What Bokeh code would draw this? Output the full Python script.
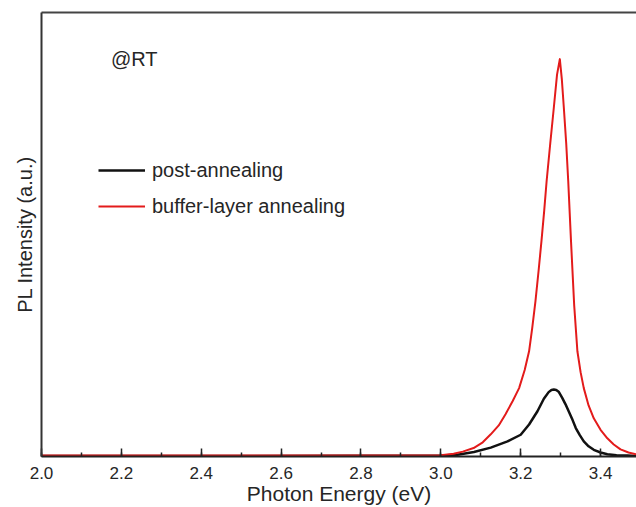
from bokeh.plotting import figure
from bokeh.models import (Range1d, LinearAxis, FixedTicker, SingleIntervalTicker,
                          PrintfTickFormatter, Legend, LegendItem, Label)
from bokeh.embed import file_html
from bokeh.resources import INLINE

# ---- data ----
red_energy = [2.00, 2.30, 2.60, 2.90, 3.000, 3.032, 3.055, 3.082, 3.105, 3.125, 3.145, 3.162,
              3.180, 3.196, 3.210, 3.221, 3.229, 3.237, 3.245, 3.252, 3.259, 3.265, 3.274,
              3.283, 3.291, 3.298, 3.303, 3.308, 3.314, 3.319, 3.326, 3.334, 3.342, 3.350,
              3.358, 3.370, 3.383, 3.400, 3.417, 3.433, 3.450, 3.470, 3.490]
red_intensity = [0.002, 0.002, 0.002, 0.002, 0.003, 0.006, 0.011, 0.019, 0.032, 0.050, 0.070, 0.095,
                 0.125, 0.154, 0.195, 0.237, 0.290, 0.350, 0.420, 0.485, 0.555, 0.621, 0.705,
                 0.786, 0.860, 0.895, 0.850, 0.786, 0.705, 0.621, 0.485, 0.340, 0.237, 0.190,
                 0.154, 0.115, 0.086, 0.060, 0.041, 0.027, 0.016, 0.009, 0.005]

black_energy = [2.00, 2.50, 3.00, 3.042, 3.083, 3.125, 3.167, 3.200, 3.221, 3.242, 3.258,
                3.270, 3.277, 3.283, 3.289, 3.295, 3.304, 3.312, 3.321, 3.330, 3.338, 3.348,
                3.358, 3.370, 3.383, 3.400, 3.417, 3.440, 3.467, 3.490]
black_intensity = [0.001, 0.001, 0.002, 0.004, 0.010, 0.020, 0.034, 0.049, 0.072, 0.102, 0.130,
                   0.145, 0.150, 0.151, 0.150, 0.146, 0.132, 0.118, 0.100, 0.082, 0.064, 0.048,
                   0.034, 0.023, 0.015, 0.009, 0.005, 0.003, 0.002, 0.001]

series_names = ["post-annealing", "buffer-layer annealing"]
x_title = "Photon Energy (eV)"
y_title = "PL Intensity (a.u.)"
note_text = "@RT"

FONT = "Liberation Sans"
TXT = "#262626"

p = figure(width=636, height=507, output_backend="svg", toolbar_location=None,
           x_range=Range1d(2.0, 3.49), y_range=Range1d(0.0, 1.0),
           min_border_left=41, min_border_right=0, min_border_top=12, min_border_bottom=10)
p.outline_line_color = None
p.grid.visible = False
p.background_fill_color = "white"
p.border_fill_color = "white"

# bottom axis
xa = p.xaxis[0]
xa.ticker = SingleIntervalTicker(interval=0.2, num_minor_ticks=2)
xa.formatter = PrintfTickFormatter(format="%.1f")
xa.major_tick_in = 8
xa.major_tick_out = 0
xa.minor_tick_in = 4
xa.minor_tick_out = 0
xa.axis_line_width = 2
xa.axis_line_color = "#222222"
xa.major_tick_line_width = 1.5
xa.major_tick_line_color = "#222222"
xa.minor_tick_line_width = 1.5
xa.minor_tick_line_color = "#222222"
xa.major_label_text_font = FONT
xa.major_label_text_font_size = "17px"
xa.major_label_text_color = TXT
xa.major_label_standoff = 10
xa.axis_label = x_title
xa.axis_label_text_font = FONT
xa.axis_label_text_font_size = "21px"
xa.axis_label_text_font_style = "normal"
xa.axis_label_text_color = TXT
xa.axis_label_standoff = 0

# left axis: line only
ya = p.yaxis[0]
ya.ticker = FixedTicker(ticks=[])
ya.major_label_text_font_size = "0px"
ya.major_tick_in = 0
ya.major_tick_out = 0
ya.minor_tick_in = 0
ya.minor_tick_out = 0
ya.axis_line_width = 2
ya.axis_line_color = "#333333"
ya.axis_label = y_title
ya.axis_label_text_font = FONT
ya.axis_label_text_font_size = "20px"
ya.axis_label_text_font_style = "normal"
ya.axis_label_text_color = TXT
ya.axis_label_standoff = 6

# top border
top = LinearAxis(ticker=FixedTicker(ticks=[]), major_label_text_font_size="0px",
                 major_tick_in=0, major_tick_out=0, minor_tick_in=0, minor_tick_out=0,
                 axis_line_width=2, axis_line_color="#444444")
p.add_layout(top, "above")

r_black = p.line(black_energy, black_intensity, line_color="#111111", line_width=2.5,
                 line_join="round")
r_red = p.line(red_energy, red_intensity, line_color="#e31b1b", line_width=2,
               line_join="round")

legend = Legend(items=[LegendItem(label=series_names[0], renderers=[r_black]),
                       LegendItem(label=series_names[1], renderers=[r_red])],
                location=(57, 238), orientation="vertical",
                glyph_width=47, glyph_height=24, label_height=24, spacing=12,
                label_standoff=7, padding=0, margin=0,
                border_line_color=None, background_fill_alpha=0,
                label_text_font=FONT, label_text_font_size="20px",
                label_text_color=TXT)
p.add_layout(legend, "center")

note = Label(x=2.174, y=0.896, text=note_text, text_font=FONT, text_font_size="20px",
             text_color=TXT, text_baseline="middle", text_align="left")
p.add_layout(note)

open("out.html", "w").write(file_html(p, INLINE))
